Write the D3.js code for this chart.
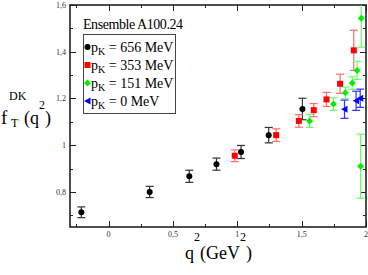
<!DOCTYPE html>
<html><head><meta charset="utf-8">
<script src="https://cdn.jsdelivr.net/npm/d3@7"></script>
<style>body{margin:0;background:#fff}svg{display:block}</style>
</head><body>
<script>
// ---- data ----
const q2_656 = [-0.212, 0.319, 0.627, 0.838, 1.029, 1.244, 1.506];
const f_656  = [0.713, 0.800, 0.867, 0.919, 0.971, 1.043, 1.155];
const e_656  = [0.023, 0.024, 0.026, 0.026, 0.028, 0.033, 0.046];

const q2_353 = [0.980, 1.302, 1.478, 1.594, 1.693, 1.799, 1.905];
const f_353  = [0.955, 1.043, 1.104, 1.150, 1.196, 1.263, 1.406];
const e_353  = [0.025, 0.027, 0.027, 0.028, 0.030, 0.041, 0.086];

const q2_151 = [1.561, 1.747, 1.840, 1.893, 1.931, 1.958, 1.963];
const f_151  = [1.104, 1.176, 1.224, 1.266, 1.320, 0.910, 1.543];
const e_151  = [0.028, 0.027, 0.025, 0.027, 0.039, 0.137, 0.124];

const q2_0 = [1.833, 1.923, 1.955];
const f_0  = [1.154, 1.190, 1.201];
const e_0  = [0.039, 0.041, 0.039];

const seriesLabels = ["656", "353", "151", "0"];
const xTicks = [0, 0.5, 1, 1.5, 2];
const xTickLabels = ["0", "0,5", "1", "1,5", "2"];
const yTicks = [0.8, 1.0, 1.2, 1.4, 1.6];
const yTickLabels = ["0,8", "1", "1,2", "1,4", "1,6"];
const xMinor = [-0.25, 0.25, 0.75, 1.25, 1.75];
const yMinor = [0.7, 0.9, 1.1, 1.3, 1.5];
const ensemble = "Ensemble A100.24";

// ---- layout ----
const W = 368, H = 275;
const L = 70, R = 366, T = 5, B = 227;
const x = d3.scaleLinear().domain([-0.3, 2]).range([L, R]);
const y = d3.scaleLinear().domain([0.65, 1.6]).range([B, T]);
const serif = "Liberation Serif, Times New Roman, serif";

const svg = d3.select("body").append("svg").attr("width", W).attr("height", H);
svg.append("defs").append("clipPath").attr("id", "clip")
  .append("rect").attr("x", L).attr("y", T).attr("width", R - L).attr("height", B - T);

// ticks (inward, all four sides)
const tg = svg.append("g").attr("stroke", "#222").attr("stroke-width", 1);
function tickSet(vals, len) {
  vals.forEach(v => {
    const xv = Math.round(x(v)) + 0.5;
    tg.append("line").attr("x1", xv).attr("x2", xv).attr("y1", B).attr("y2", B - len);
    tg.append("line").attr("x1", xv).attr("x2", xv).attr("y1", T).attr("y2", T + len);
  });
}
function tickSetY(vals, len) {
  vals.forEach(v => {
    const yv = Math.round(y(v)) + 0.5;
    tg.append("line").attr("y1", yv).attr("y2", yv).attr("x1", L).attr("x2", L + len);
    tg.append("line").attr("y1", yv).attr("y2", yv).attr("x1", R).attr("x2", R - len);
  });
}
tickSet(xTicks, 6); tickSet(xMinor, 3);
tickSetY(yTicks, 6); tickSetY(yMinor, 3);

// tick labels
svg.append("g").selectAll("text").data(xTicks).join("text")
  .attr("x", d => x(d)).attr("y", 237).attr("text-anchor", "middle")
  .attr("font-family", serif).attr("font-size", 8).attr("fill", "#333")
  .text((d, i) => xTickLabels[i]);
svg.append("g").selectAll("text").data(yTicks).join("text")
  .attr("x", 66).attr("y", d => y(d) + 3).attr("text-anchor", "end")
  .attr("font-family", serif).attr("font-size", 8).attr("fill", "#333")
  .text((d, i) => yTickLabels[i]);

// frame
svg.append("rect").attr("x", L).attr("y", T).attr("width", R - L).attr("height", B - T)
  .attr("fill", "none").attr("stroke", "#222").attr("stroke-width", 1.6);

// series
const series = [
  {q: q2_656, f: f_656, e: e_656, col: "#000", ecol: "#333", sym: "circle"},
  {q: q2_353, f: f_353, e: e_353, col: "#ff0000", ecol: "#ff6a6a", sym: "square"},
  {q: q2_151, f: f_151, e: e_151, col: "#00ee00", ecol: "#66ff66", sym: "diamond"},
  {q: q2_0, f: f_0, e: e_0, col: "#0000ff", ecol: "#3030ff", sym: "tri"}
];

function drawSym(g, sym, cx, cy, col) {
  if (sym === "circle") g.append("circle").attr("cx", cx).attr("cy", cy).attr("r", 3).attr("fill", col);
  else if (sym === "square") g.append("rect").attr("x", cx - 3).attr("y", cy - 3).attr("width", 6).attr("height", 6).attr("fill", col);
  else if (sym === "diamond") g.append("path").attr("d", `M${cx},${cy-3.5}L${cx+3.5},${cy}L${cx},${cy+3.5}L${cx-3.5},${cy}Z`).attr("fill", col);
  else g.append("path").attr("d", `M${cx-3.5},${cy}L${cx+3},${cy-3.5}L${cx+3},${cy+3.5}Z`).attr("fill", col);
}

const pg = svg.append("g").attr("clip-path", "url(#clip)");
series.forEach(s => {
  s.q.forEach((qv, i) => {
    const cx = x(qv), y0 = y(s.f[i] - s.e[i]), y1 = y(s.f[i] + s.e[i]);
    const eg = pg.append("g").attr("stroke", s.ecol).attr("stroke-width", 1.2);
    eg.append("line").attr("x1", cx).attr("x2", cx).attr("y1", y0).attr("y2", y1);
    eg.append("line").attr("x1", cx - 4).attr("x2", cx + 4).attr("y1", y0).attr("y2", y0);
    eg.append("line").attr("x1", cx - 4).attr("x2", cx + 4).attr("y1", y1).attr("y2", y1);
  });
});
series.forEach(s => {
  s.q.forEach((qv, i) => drawSym(pg, s.sym, x(qv), y(s.f[i]), s.col));
});

// ensemble title
svg.append("text").attr("x", 83).attr("y", 29).attr("font-family", serif).attr("font-size", 14)
  .attr("fill", "#000").attr("textLength", 100).text(ensemble);

// legend
const lg = svg.append("g");
lg.append("rect").attr("x", 83.5).attr("y", 34.5).attr("width", 92).attr("height", 79)
  .attr("fill", "#fff").attr("stroke", "#444").attr("stroke-width", 1);
series.forEach((s, i) => {
  const cy = 47 + i * 18;
  drawSym(lg, s.sym, 87.5, cy, s.col);
  const t = lg.append("text").attr("x", 91).attr("y", cy + 4.5).attr("font-family", serif)
    .attr("font-size", 14).attr("fill", "#000");
  t.append("tspan").text("p");
  t.append("tspan").attr("font-size", 10).attr("dy", 3).text("K");
  t.append("tspan").attr("dy", -3).text(" = " + seriesLabels[i] + " MeV");
});

// axis labels
const xl = svg.append("text").attr("x", 185).attr("y", 259).attr("font-family", serif)
  .attr("font-size", 18).attr("fill", "#000");
xl.append("tspan").text("q");
xl.append("tspan").attr("font-size", 12).attr("dy", -18).text("2");
xl.append("tspan").attr("dy", 18).text("(GeV");
xl.append("tspan").attr("font-size", 12).attr("dy", -18).text("2");
xl.append("tspan").attr("dy", 18).text(")");

const yl = svg.append("text").attr("x", 1).attr("y", 124).attr("font-family", serif)
  .attr("font-size", 19).attr("fill", "#000");
yl.append("tspan").text("f");
yl.append("tspan").attr("font-size", 12).attr("x", 9).attr("dy", -24).text("DK");
yl.append("tspan").attr("font-size", 12).attr("x", 11).attr("dy", 27).text("T");
yl.append("tspan").attr("font-size", 18).attr("x", 24).attr("dy", -3).text("(q");
yl.append("tspan").attr("font-size", 12).attr("dy", -15).text("2");
yl.append("tspan").attr("font-size", 18).attr("dy", 15).text(")");
</script>
</body></html>
